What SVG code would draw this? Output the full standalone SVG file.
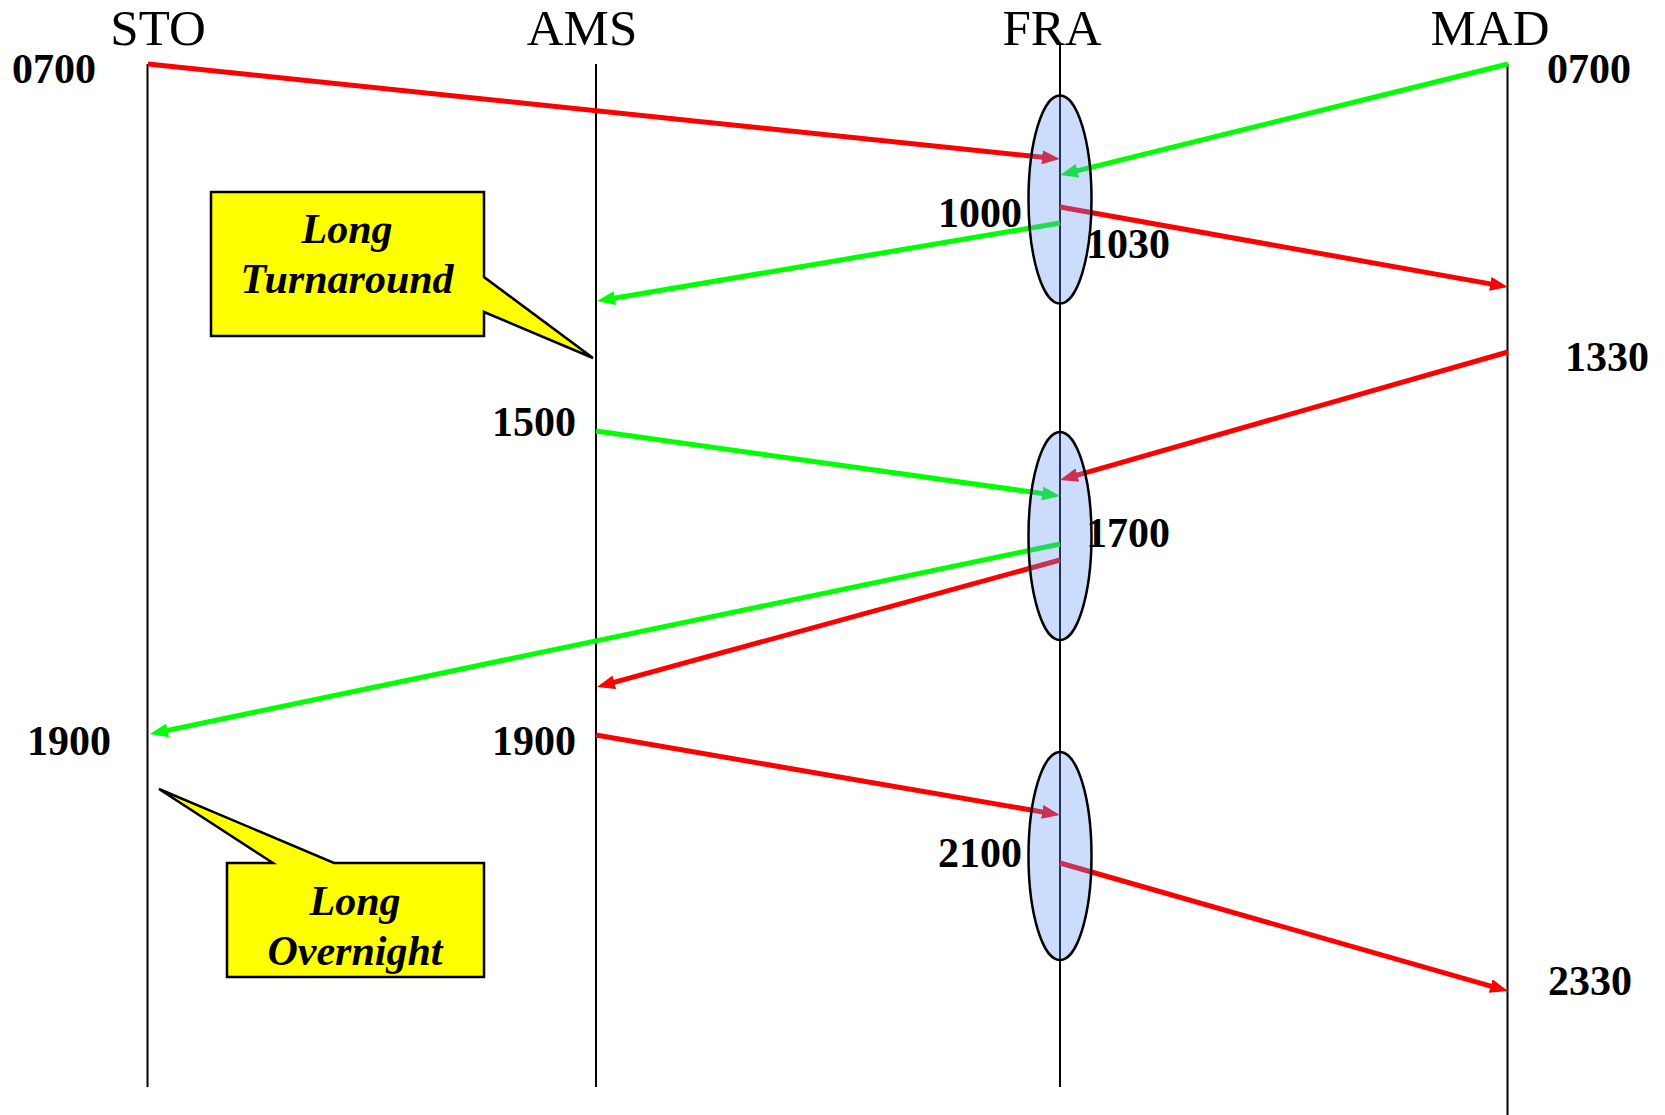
<svg xmlns="http://www.w3.org/2000/svg" width="1665" height="1115" viewBox="0 0 1665 1115">
  <style>
    .axis { stroke: #000; stroke-width: 2; fill: none; }
    .station { font-family: "Liberation Serif", "Times New Roman", serif; font-size: 51px; fill: #000; text-anchor: middle; }
    .time { font-family: "Liberation Serif", "Times New Roman", serif; font-size: 42px; font-weight: bold; fill: #000; }
    .end { text-anchor: end; }
    .red { stroke: #ff0000; stroke-width: 5; fill: none; }
    .green { stroke: #00ff00; stroke-width: 5; fill: none; }
    .hub { fill: rgb(98,148,246); fill-opacity: 0.33; stroke: #000; stroke-width: 2.5; }
    .callout { fill: #ffff00; stroke: #000; stroke-width: 2.5; stroke-linejoin: miter; }
    .note { font-family: "Liberation Serif", "Times New Roman", serif; font-size: 42px; font-weight: bold; font-style: italic; fill: #000; text-anchor: middle; }
  </style>
  <defs>
    <marker id="arrow-red" markerUnits="userSpaceOnUse" markerWidth="18" markerHeight="14" refX="10" refY="7" orient="auto">
      <path d="M0,0 L18,7 L0,14 Z" fill="#ff0000"/>
    </marker>
    <marker id="arrow-green" markerUnits="userSpaceOnUse" markerWidth="18" markerHeight="14" refX="10" refY="7" orient="auto">
      <path d="M0,0 L18,7 L0,14 Z" fill="#00ff00"/>
    </marker>
  </defs>
  <rect width="1665" height="1115" fill="#fff"/>

  <!-- station time axes -->
  <g id="station-STO">
    <line class="axis" x1="147.5" y1="64" x2="147.5" y2="1087"/>
    <text class="station" x="158" y="45">STO</text>
  </g>
  <g id="station-AMS">
    <line class="axis" x1="596" y1="64" x2="596" y2="1087"/>
    <text class="station" x="582" y="45">AMS</text>
  </g>
  <g id="station-FRA">
    <line class="axis" x1="1060" y1="45" x2="1060" y2="1087"/>
    <text class="station" x="1052" y="45">FRA</text>
  </g>
  <g id="station-MAD">
    <line class="axis" x1="1507.5" y1="64" x2="1507.5" y2="1115"/>
    <text class="station" x="1490" y="45">MAD</text>
  </g>

  <!-- flights -->
  <g id="connectors">
    <line class="red" x1="148" y1="64" x2="1052" y2="158.2" marker-end="url(#arrow-red)"/>
    <line class="green" x1="1508" y1="64" x2="1067.8" y2="173.1" marker-end="url(#arrow-green)"/>
    <line class="red" x1="1060" y1="207" x2="1500.1" y2="285.6" marker-end="url(#arrow-red)"/>
    <line class="green" x1="1060" y1="223" x2="604.9" y2="299.7" marker-end="url(#arrow-green)"/>
    <line class="red" x1="1508" y1="352" x2="1067.7" y2="477.8" marker-end="url(#arrow-red)"/>
    <line class="green" x1="596" y1="431" x2="1052.1" y2="494.9" marker-end="url(#arrow-green)"/>
    <line class="green" x1="1060" y1="544" x2="157.8" y2="732.4" marker-end="url(#arrow-green)"/>
    <line class="red" x1="1060" y1="560" x2="604.7" y2="684.9" marker-end="url(#arrow-red)"/>
    <line class="red" x1="596" y1="735" x2="1052.1" y2="813.6" marker-end="url(#arrow-red)"/>
    <line class="red" x1="1060" y1="863" x2="1500.3" y2="988.8" marker-end="url(#arrow-red)"/>
  </g>

  <!-- departure / arrival times -->
  <g id="times">
    <text class="time end" x="96" y="83">0700</text>
    <text class="time" x="1547" y="83">0700</text>
    <text class="time end" x="1022" y="227">1000</text>
    <text class="time" x="1086" y="258">1030</text>
    <text class="time" x="1565" y="371">1330</text>
    <text class="time end" x="576" y="436">1500</text>
    <text class="time" x="1086" y="547">1700</text>
    <text class="time end" x="111" y="755">1900</text>
    <text class="time end" x="576" y="755">1900</text>
    <text class="time end" x="1022" y="867">2100</text>
    <text class="time" x="1548" y="995">2330</text>
  </g>

  <!-- connection banks at FRA -->
  <g id="bank-1"><ellipse class="hub" cx="1060" cy="199.5" rx="31.5" ry="104"/></g>
  <g id="bank-2"><ellipse class="hub" cx="1060" cy="536" rx="31.5" ry="104"/></g>
  <g id="bank-3"><ellipse class="hub" cx="1060" cy="856" rx="31.5" ry="104"/></g>

  <!-- callouts -->
  <g id="callout-turnaround">
    <path class="callout" d="M211,192 L484,192 L484,277 L593,358 L484,312 L484,336 L211,336 Z"/>
    <text class="note" x="347" y="243">Long</text>
    <text class="note" x="347" y="293">Turnaround</text>
  </g>
  <g id="callout-overnight">
    <path class="callout" d="M227,863 L273,863 L159,789 L334,863 L484,863 L484,977 L227,977 Z"/>
    <text class="note" x="355" y="915">Long</text>
    <text class="note" x="355" y="965">Overnight</text>
  </g>
</svg>
